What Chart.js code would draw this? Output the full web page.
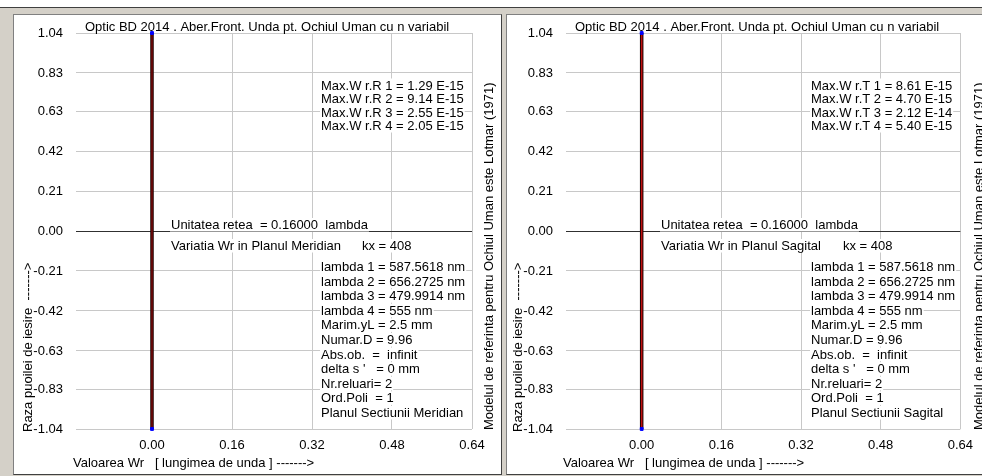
<!DOCTYPE html>
<html>
<head>
<meta charset="utf-8">
<title>Optic BD 2014 - Aber.Front. Unda</title>
<script src="https://cdn.jsdelivr.net/npm/chart.js"></script>
<style>
  body { margin: 0; width: 982px; height: 476px; overflow: hidden; background: #d4d0c8; position: relative; }
  #topstrip { position: absolute; left: 0; top: 0; width: 982px; height: 7px; background: #fff; border-bottom: 1px solid #404040; }
  .panel { position: absolute; top: 14px; height: 459px; background: #fff;
           border-top: 1px solid #808080; border-left: 1px solid #808080; border-bottom: 1px solid #404040; }
  #pL { left: 13px; width: 487px; border-right: 1px solid #404040; }
  #pR { left: 506px; width: 476px; }
  canvas { position: absolute; top: 0; }
  #cL { left: 0; }
  #cR { left: 490px; }
</style>
</head>
<body>
<div id="topstrip"></div>
<div class="panel" id="pL"></div>
<div class="panel" id="pR"></div>
<canvas id="cL" width="501" height="476"></canvas>
<canvas id="cR" width="492" height="476"></canvas>

<script>
// axis ticks
var xTicks = [0.00, 0.16, 0.32, 0.48, 0.64];
var yTicks = [-1.04, -0.83, -0.63, -0.42, -0.21, 0.00, 0.21, 0.42, 0.63, 0.83, 1.04];

// pupil radius (vertical axis) and wavefront aberration Wr for the 4 wavelengths
// all Wr values are practically zero (max ~1e-15), so every curve sits on x = 0
var pupilRadius = [-1.04, -0.83, -0.63, -0.42, -0.21, 0.00, 0.21, 0.42, 0.63, 0.83, 1.04];
var wrR1 = [0, 0, 0, 0, 0, 0, 0, 0, 0, 0, 0];
var wrR2 = [0, 0, 0, 0, 0, 0, 0, 0, 0, 0, 0];
var wrR3 = [0, 0, 0, 0, 0, 0, 0, 0, 0, 0, 0];
var wrR4 = [0, 0, 0, 0, 0, 0, 0, 0, 0, 0, 0];
var wrT1 = [0, 0, 0, 0, 0, 0, 0, 0, 0, 0, 0];
var wrT2 = [0, 0, 0, 0, 0, 0, 0, 0, 0, 0, 0];
var wrT3 = [0, 0, 0, 0, 0, 0, 0, 0, 0, 0, 0];
var wrT4 = [0, 0, 0, 0, 0, 0, 0, 0, 0, 0, 0];

var maxWrR = ['1.29 E-15', '9.14 E-15', '2.55 E-15', '2.05 E-15'];
var maxWrT = ['8.61 E-15', '4.70 E-15', '2.12 E-14', '5.40 E-15'];
var lambdas = ['587.5618', '656.2725', '479.9914', '555'];

var FONT = '13px "Liberation Sans", Arial, sans-serif';
var titleText = 'Optic BD 2014 . Aber.Front. Unda pt. Ochiul Uman cu n variabil';
var modelText = 'Modelul de referinta pentru Ochiul Uman este Lotmar (1971)';

function pts(wr) {
  return wr.map(function (v, i) { return { x: v, y: pupilRadius[i] }; });
}

// text with a white box behind it, the way the original program writes on the grid
function boxText(c, s, x, y) {
  var w = c.measureText(s).width;
  c.fillStyle = '#fff';
  c.fillRect(x - 1, y - 11, w + 2, 13.5);
  c.fillStyle = '#000';
  c.fillText(s, x, y);
}

var panelText = {
  id: 'panelText',
  afterDraw: function (chart) {
    var o = chart.options.plugins.panelText;
    var c = chart.ctx;
    c.save();
    c.font = FONT;
    c.textAlign = 'left';
    c.textBaseline = 'alphabetic';
    c.fillStyle = '#000';
    c.fillText(titleText, 85, 31);

    o.maxW.forEach(function (v, i) {
      boxText(c, 'Max.W r.' + o.plane + ' ' + (i + 1) + ' = ' + v, 321, 89.5 + i * 13.5);
    });
    boxText(c, 'Unitatea retea  = 0.16000  lambda', 171, 229);
    boxText(c, 'Variatia Wr in Planul ' + o.planName, 171, 250);
    boxText(c, 'kx = 408', o.kxX, 250);

    var info = lambdas.map(function (l, i) { return 'lambda ' + (i + 1) + ' = ' + l + ' nm'; });
    info = info.concat(['Marim.yL = 2.5 mm', 'Numar.D = 9.96', 'Abs.ob.  =  infinit',
      "delta s '   = 0 mm", 'Nr.reluari= 2', 'Ord.Poli  = 1', 'Planul Sectiunii ' + o.planName]);
    info.forEach(function (s, i) { boxText(c, s, 321, 271 + i * 14.6); });

    c.fillStyle = '#000';
    c.fillText('Valoarea Wr   [ lungimea de unda ] ------->', 73, 467);

    c.save();
    c.translate(31.5, 432);
    c.rotate(-Math.PI / 2);
    c.fillText('Raza puoilei de iesire  ------->', 0, 0);
    c.restore();

    c.save();
    c.translate(492.5, 430);
    c.rotate(-Math.PI / 2);
    c.fillText(modelText, 0, 0);
    c.restore();
    c.restore();
  }
};

function makeChart(id, series, topColor, txt, rightPad) {
  var datasets = [
    { data: pts(series[2]), showLine: false, backgroundColor: '#0000ff', borderColor: '#0000ff',
      pointStyle: 'rect', clip: 4,
      pointRadius: function (ctx) { return (ctx.dataIndex === 0 || ctx.dataIndex === pupilRadius.length - 1) ? 2 : 0; } },
    { data: pts(series[0]), showLine: true, borderColor: topColor, borderWidth: 1.5, pointRadius: 0 },
    { data: pts(series[1]), showLine: true, borderColor: '#1a0000', borderWidth: 3.5, pointRadius: 0 },
    { data: pts(series[3]), showLine: true, borderColor: '#008000', borderWidth: 1, pointRadius: 0 }
  ];
  return new Chart(document.getElementById(id), {
    type: 'scatter',
    data: { datasets: datasets },
    options: {
      responsive: false,
      animation: false,
      devicePixelRatio: 1,
      layout: { padding: { top: 33, right: rightPad, left: 0, bottom: 0 } },
      plugins: {
        legend: { display: false },
        tooltip: { enabled: false },
        panelText: txt
      },
      scales: {
        x: {
          type: 'linear', min: -0.152, max: 0.64,
          afterBuildTicks: function (s) { s.ticks = xTicks.map(function (v) { return { value: v }; }); },
          afterFit: function (s) { s.height = 47; },
          border: { display: false },
          grid: { color: '#c8c8c8', drawTicks: false },
          ticks: { padding: 9, color: '#000', autoSkip: false, maxRotation: 0,
                   font: { family: '"Liberation Sans", Arial, sans-serif', size: 13 },
                   callback: function (v) { return v.toFixed(2); } }
        },
        y: {
          type: 'linear', min: -1.04, max: 1.04,
          afterBuildTicks: function (s) { s.ticks = yTicks.map(function (v) { return { value: v }; }); },
          afterFit: function (s) { s.width = 76; },
          border: { display: false },
          grid: { drawTicks: false,
                  color: function (ctx) { return ctx.tick && ctx.tick.value === 0 ? '#303030' : '#c8c8c8'; } },
          ticks: { padding: 13, color: '#000', autoSkip: false,
                   font: { family: '"Liberation Sans", Arial, sans-serif', size: 13 },
                   callback: function (v) { return v.toFixed(2); } }
        }
      }
    },
    plugins: [panelText]
  });
}

makeChart('cL', [wrR1, wrR2, wrR3, wrR4], '#7a0a0a',
  { plane: 'R', planName: 'Meridian', maxW: maxWrR, kxX: 362 }, 29);
makeChart('cR', [wrT1, wrT2, wrT3, wrT4], '#c01010',
  { plane: 'T', planName: 'Sagital', maxW: maxWrT, kxX: 353 }, 20);
</script>
</body>
</html>
